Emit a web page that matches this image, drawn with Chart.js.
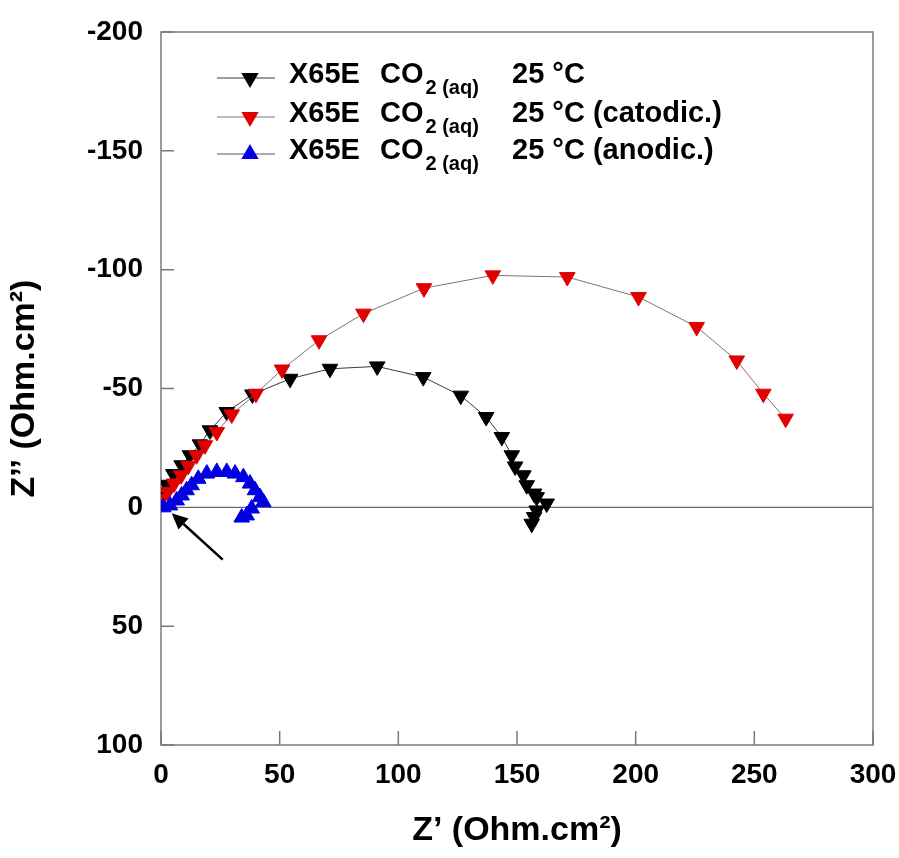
<!DOCTYPE html>
<html><head><meta charset="utf-8">
<script src="https://cdn.jsdelivr.net/npm/chart.js@4.4.1/dist/chart.umd.min.js"></script>
<style>html,body{margin:0;padding:0;background:#fff}canvas{display:block}</style>
</head><body>
<canvas id="c" width="899" height="858"></canvas>
<script>
// ---- data (Z' real part, Z'' imaginary part, Ohm.cm2) ----
const xTicks = [0, 50, 100, 150, 200, 250, 300];
const yTicks = [-200, -150, -100, -50, 0, 50, 100];

const blackZre = [0.3, 2.4, 5.2, 8.7, 12.2, 16.4, 20.6, 27.7, 38.5, 54.4, 71.2, 91.1, 110.5, 126.3, 137.0, 143.6, 147.8, 149.2, 152.7, 154.1, 157.2, 158.3, 162.5, 158.3, 157.2, 156.2];
const blackZim = [-4.5, -9.5, -14.0, -17.7, -21.9, -26.5, -32.4, -40.1, -47.5, -54.1, -58.3, -59.3, -54.8, -47.0, -38.0, -29.6, -21.9, -17.2, -13.5, -9.3, -5.8, -4.3, -1.6, 1.3, 4.1, 6.9];

const redZre = [0.3, 2.8, 5.5, 8.5, 11.5, 15.0, 18.5, 23.5, 29.8, 40.0, 51.0, 66.6, 85.3, 110.8, 139.8, 171.2, 201.2, 225.7, 242.6, 253.8, 263.2];
const redZim = [-3.5, -6.5, -10.0, -13.5, -17.5, -21.9, -26.1, -31.7, -39.1, -47.8, -58.0, -70.3, -81.5, -92.2, -97.6, -96.9, -88.5, -75.9, -61.8, -47.8, -37.3];

const blueZre = [1.0, 3.8, 6.6, 8.7, 10.8, 12.9, 15.7, 19.3, 23.5, 27.7, 31.2, 34.7, 37.5, 39.6, 41.7, 43.1, 38.2, 36.1, 34.0];
const blueZim = [0, -0.8, -2.9, -5.0, -7.2, -9.3, -12.0, -14.2, -14.9, -14.9, -14.2, -12.7, -10.0, -7.2, -4.3, -2.2, 0.5, 3.4, 4.3];

const legendMain = ["X65E", "CO"];
const legendSub = "2 (aq)";
const legendTemp = ["25 °C", "25 °C (catodic.)", "25 °C (anodic.)"];

const arrowFrom = [26, 22];
const arrowTo = [4.5, 2.5];

const FONT = 'Arial, "Liberation Sans", sans-serif';
const pts = (xs, ys) => xs.map((v, i) => ({x: v, y: ys[i]}));

const series = [
  {color: '#000000', line: '#3a3a3a', rot: 180, data: pts(blackZre, blackZim), order: 2},
  {color: '#e00000', line: '#8a7070', rot: 180, data: pts(redZre, redZim), order: 1},
  {color: '#0000e0', line: '#555577', rot: 0, data: pts(blueZre, blueZim), order: 0}
];

function tri(ctx, cx, cy, r, down) {
  const s = Math.sin(Math.PI / 3) * r;
  ctx.beginPath();
  if (down) { ctx.moveTo(cx, cy + r); ctx.lineTo(cx - s, cy - r / 2); ctx.lineTo(cx + s, cy - r / 2); }
  else { ctx.moveTo(cx, cy - r); ctx.lineTo(cx - s, cy + r / 2); ctx.lineTo(cx + s, cy + r / 2); }
  ctx.closePath(); ctx.fill();
}

const framePlugin = {
  id: 'frame',
  beforeDatasetsDraw(chart) {
    const {ctx, chartArea: a, scales: {x, y}} = chart;
    ctx.save();
    const y0 = y.getPixelForValue(0);
    ctx.strokeStyle = '#444'; ctx.lineWidth = 1;
    ctx.beginPath(); ctx.moveTo(a.left, y0); ctx.lineTo(a.right, y0); ctx.stroke();
    ctx.strokeStyle = '#7a7a7a'; ctx.lineWidth = 1.5;
    ctx.strokeRect(a.left, a.top, a.right - a.left, a.bottom - a.top);
    ctx.beginPath();
    xTicks.forEach(v => { const p = x.getPixelForValue(v); ctx.moveTo(p, a.bottom); ctx.lineTo(p, a.bottom - 14); });
    yTicks.forEach(v => { const p = y.getPixelForValue(v); ctx.moveTo(a.left, p); ctx.lineTo(a.left + 13, p); });
    ctx.stroke();
    ctx.restore();
  },
  afterDatasetsDraw(chart) {
    const {ctx, scales: {x, y}} = chart;
    const x1 = x.getPixelForValue(arrowFrom[0]), y1 = y.getPixelForValue(arrowFrom[1]);
    const x2 = x.getPixelForValue(arrowTo[0]), y2 = y.getPixelForValue(arrowTo[1]);
    const ang = Math.atan2(y2 - y1, x2 - x1);
    ctx.save();
    ctx.strokeStyle = '#000'; ctx.fillStyle = '#000'; ctx.lineWidth = 2.5;
    const hl = 16, hw = 7.5;
    const bx = x2 - Math.cos(ang) * hl, by = y2 - Math.sin(ang) * hl;
    ctx.beginPath(); ctx.moveTo(x1, y1); ctx.lineTo(bx, by); ctx.stroke();
    ctx.beginPath();
    ctx.moveTo(x2, y2);
    ctx.lineTo(bx + Math.sin(ang) * hw, by - Math.cos(ang) * hw);
    ctx.lineTo(bx - Math.sin(ang) * hw, by + Math.cos(ang) * hw);
    ctx.closePath(); ctx.fill();
    ctx.restore();
  },
  afterDraw(chart) {
    const {ctx} = chart;
    const rows = [75, 114, 151];
    ctx.save();
    series.forEach((s, i) => {
      const ry = rows[i];
      ctx.strokeStyle = s.line; ctx.lineWidth = 1;
      ctx.beginPath(); ctx.moveTo(217, ry + 3); ctx.lineTo(275, ry + 3); ctx.stroke();
      ctx.fillStyle = s.color;
      tri(ctx, 250, ry + 3, 10, s.rot === 180);
      ctx.fillStyle = '#000';
      ctx.textBaseline = 'middle'; ctx.textAlign = 'left';
      ctx.font = 'bold 29px ' + FONT;
      ctx.fillText(legendMain[0], 289, ry);
      ctx.fillText(legendMain[1], 380, ry);
      const w = ctx.measureText(legendMain[1]).width;
      ctx.fillText(legendTemp[i], 512, ry);
      ctx.font = 'bold 20px ' + FONT;
      ctx.fillText(legendSub, 380 + w + 2, ry + 13);
    });
    ctx.restore();
  }
};

new Chart(document.getElementById('c'), {
  type: 'scatter',
  data: {
    datasets: series.map(s => ({
      data: s.data, showLine: true, borderColor: s.line, borderWidth: 1,
      pointStyle: 'triangle', rotation: s.rot, pointRadius: 9, pointHoverRadius: 9,
      pointBackgroundColor: s.color, pointBorderColor: s.color, pointBorderWidth: 1,
      order: s.order, tension: 0
    }))
  },
  options: {
    responsive: false, animation: false,
    layout: {padding: {top: 32, right: 26, left: 0, bottom: 0}},
    plugins: {legend: {display: false}, tooltip: {enabled: false}},
    scales: {
      x: {
        type: 'linear', min: 0, max: 300,
        afterBuildTicks: s => { s.ticks = xTicks.map(v => ({value: v})); },
        grid: {display: false, drawTicks: false}, border: {display: false},
        ticks: {font: {size: 28, weight: 'bold', family: FONT}, color: '#000', padding: 13, maxRotation: 0},
        title: {display: true, text: 'Z’ (Ohm.cm²)', font: {size: 34, weight: 'bold', family: FONT}, color: '#000', padding: {top: 7, bottom: 7}},
        afterFit: s => { s.height = 113; s.paddingLeft = 0; s.paddingRight = 0; }
      },
      y: {
        type: 'linear', min: -200, max: 100, reverse: true,
        afterBuildTicks: s => { s.ticks = yTicks.map(v => ({value: v})); },
        grid: {display: false, drawTicks: false}, border: {display: false},
        ticks: {font: {size: 28, weight: 'bold', family: FONT}, color: '#000', padding: 18},
        title: {display: true, text: 'Z’’ (Ohm.cm²)', font: {size: 34, weight: 'bold', family: FONT}, color: '#000', padding: {top: 4, bottom: 4}},
        afterFit: s => { s.width = 161; s.paddingTop = 0; s.paddingBottom = 0; }
      }
    }
  },
  plugins: [framePlugin]
});
</script>
</body></html>
